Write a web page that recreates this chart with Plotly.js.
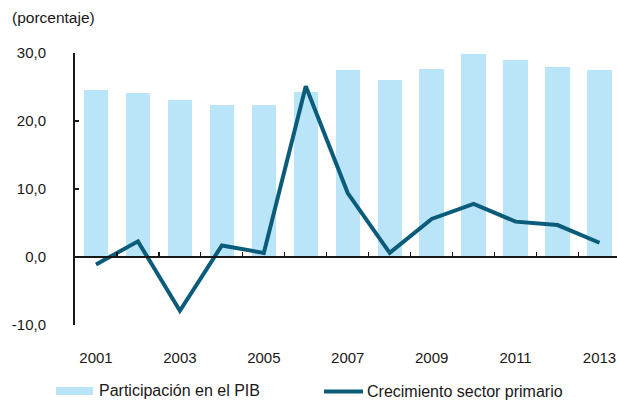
<!DOCTYPE html>
<html>
<head>
<meta charset="utf-8">
<script src="https://cdn.plot.ly/plotly-3.0.1.min.js"></script>
<style>html,body{margin:0;padding:0;background:#fff;}#chart{width:617px;height:400px;}</style>
</head>
<body>
<div id="chart"></div>
<script>
const years = [2001,2002,2003,2004,2005,2006,2007,2008,2009,2010,2011,2012,2013];
const participacion = [24.5,24.1,23.1,22.3,22.3,24.3,27.5,26.0,27.6,29.8,29.0,27.9,27.5];
const crecimiento = [-1.1,2.3,-7.9,1.7,0.6,25.1,9.4,0.6,5.6,7.8,5.2,4.7,2.1];
const xTickVals = [2001,2003,2005,2007,2009,2011,2013];
const xTickText = ['2001','2003','2005','2007','2009','2011','2013'];
const yTickVals = [-10,0,10,20,30];
const yTickText = ['-10,0','0,0','10,0','20,0','30,0'];
const boundaryTicks = years.slice(0, -1).map(y => y + 0.5);
const seriesNames = ['Participación en el PIB', 'Crecimiento sector primario'];

const barColor = '#bae5f9';
const lineColor = '#0b5c7a';
const ink = '#1a1718';
const fam = '"Liberation Sans", Arial, Helvetica, sans-serif';
const font = {family: fam, size: 15, color: ink};
const titleFont = {family: fam, size: 15.5, color: ink};
const legendFont = {family: fam, size: 16, color: ink};

const traces = [
  {type: 'bar', x: years, y: participacion, name: seriesNames[0], width: 0.58,
   marker: {color: barColor, line: {width: 0}}, xaxis: 'x', yaxis: 'y', hoverinfo: 'skip'},
  {type: 'scatter', mode: 'lines', x: years, y: crecimiento, name: seriesNames[1],
   line: {color: lineColor, width: 4}, xaxis: 'x2', yaxis: 'y', hoverinfo: 'skip'}
];

const xr = [2000.5, 2013.417];
const layout = {
  width: 617, height: 400,
  margin: {l: 75, r: 0, t: 53, b: 75},
  paper_bgcolor: '#fff', plot_bgcolor: 'rgba(0,0,0,0)',
  font: font, separators: ',.', showlegend: false, bargap: 0,
  xaxis: {range: xr, showgrid: false, zeroline: false, showline: false,
    tickmode: 'array', tickvals: xTickVals, ticktext: xTickText, ticks: '',
    ticklabelstandoff: 22, tickfont: font, fixedrange: true},
  xaxis2: {range: xr, overlaying: 'x', anchor: 'free', position: 0.25, side: 'bottom',
    showgrid: false, zeroline: false, showline: true, linecolor: ink, linewidth: 2,
    tickmode: 'array', tickvals: boundaryTicks, ticks: 'inside', ticklen: 4,
    tickwidth: 1.2, tickcolor: ink, showticklabels: false, fixedrange: true},
  yaxis: {range: [-10, 30], showgrid: false, zeroline: false, showline: true,
    linecolor: ink, linewidth: 2, tickmode: 'array', tickvals: yTickVals, ticktext: yTickText,
    ticks: 'inside', ticklen: 4, tickwidth: 1.2, tickcolor: ink,
    ticklabelstandoff: 24, tickfont: font, fixedrange: true},
  annotations: [
    {text: '(porcentaje)', xref: 'paper', yref: 'paper', x: -0.12, y: 1.132,
     xanchor: 'left', yanchor: 'middle', showarrow: false, font: titleFont},
    {text: seriesNames[0], xref: 'paper', yref: 'paper', x: 0.0406, y: -0.241,
     xanchor: 'left', yanchor: 'middle', showarrow: false, font: legendFont},
    {text: seriesNames[1], xref: 'paper', yref: 'paper', x: 0.535, y: -0.245,
     xanchor: 'left', yanchor: 'middle', showarrow: false, font: legendFont}
  ],
  shapes: [
    {type: 'rect', xref: 'paper', yref: 'paper', x0: -0.0351, x1: 0.0332, y0: -0.257, y1: -0.228,
     fillcolor: barColor, line: {width: 0}},
    {type: 'line', xref: 'paper', yref: 'paper', x0: 0.4594, x1: 0.5314, y0: -0.2445, y1: -0.2445,
     line: {color: lineColor, width: 4}}
  ]
};

Plotly.newPlot('chart', traces, layout, {displayModeBar: false, staticPlot: true});
</script>
</body>
</html>
